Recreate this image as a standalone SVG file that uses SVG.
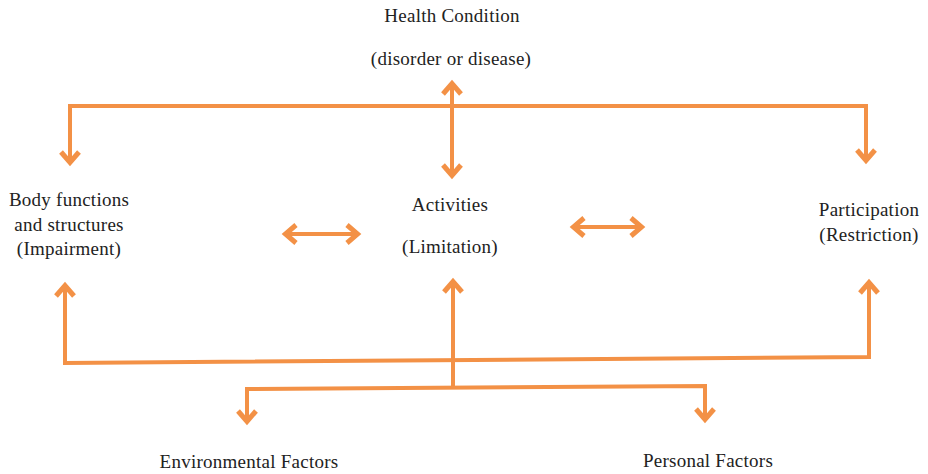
<svg xmlns="http://www.w3.org/2000/svg" width="928" height="474" viewBox="0 0 928 474">
<style>
  .lbl { font-family: "Liberation Serif", "Times New Roman", serif; font-size: 19px; letter-spacing: 0.25px; fill: #222; text-anchor: middle; }
  .wire { fill: none; stroke: #F39146; stroke-width: 4; stroke-linejoin: miter; }
  .arr { marker-start: url(#ah); marker-end: url(#ah); }
  .arrEnd { marker-start: url(#ah); }
</style>
<defs>
  <marker id="ah" viewBox="-20 -12 24 24" markerWidth="24" markerHeight="24" refX="0" refY="0" orient="auto-start-reverse" markerUnits="userSpaceOnUse">
    <path d="M-12,-9 L-1.5,0 L-12,9" fill="none" stroke="#F39146" stroke-width="5" stroke-linejoin="miter"/>
  </marker>
</defs>
<rect width="928" height="474" fill="#ffffff"/>
<g id="connectors">
  <path class="wire arr" d="M70,164 V106 H866 V162"/>
  <path class="wire arr" d="M452,82 V177"/>
  <path class="wire arr" d="M284,234 H359"/>
  <path class="wire arr" d="M572,227 H643"/>
  <path class="wire arr" d="M65,284 V363 L869,357 V281"/>
  <path class="wire arrEnd" d="M453,280 V387"/>
  <path class="wire arr" d="M247,423 V389 L705,386 V421"/>
</g>
<g id="health">
  <text class="lbl" x="452" y="22">Health Condition</text>
  <text class="lbl" x="451" y="65">(disorder or disease)</text>
</g>
<g id="body">
  <text class="lbl" x="69" y="206">Body functions</text>
  <text class="lbl" x="69" y="231">and structures</text>
  <text class="lbl" x="69" y="255">(Impairment)</text>
</g>
<g id="activities">
  <text class="lbl" x="450" y="211">Activities</text>
  <text class="lbl" x="450" y="253">(Limitation)</text>
</g>
<g id="participation">
  <text class="lbl" x="869" y="216">Participation</text>
  <text class="lbl" x="869" y="241">(Restriction)</text>
</g>
<g id="environmental">
  <text class="lbl" x="249" y="468">Environmental Factors</text>
</g>
<g id="personal">
  <text class="lbl" x="708" y="467">Personal Factors</text>
</g>
</svg>
